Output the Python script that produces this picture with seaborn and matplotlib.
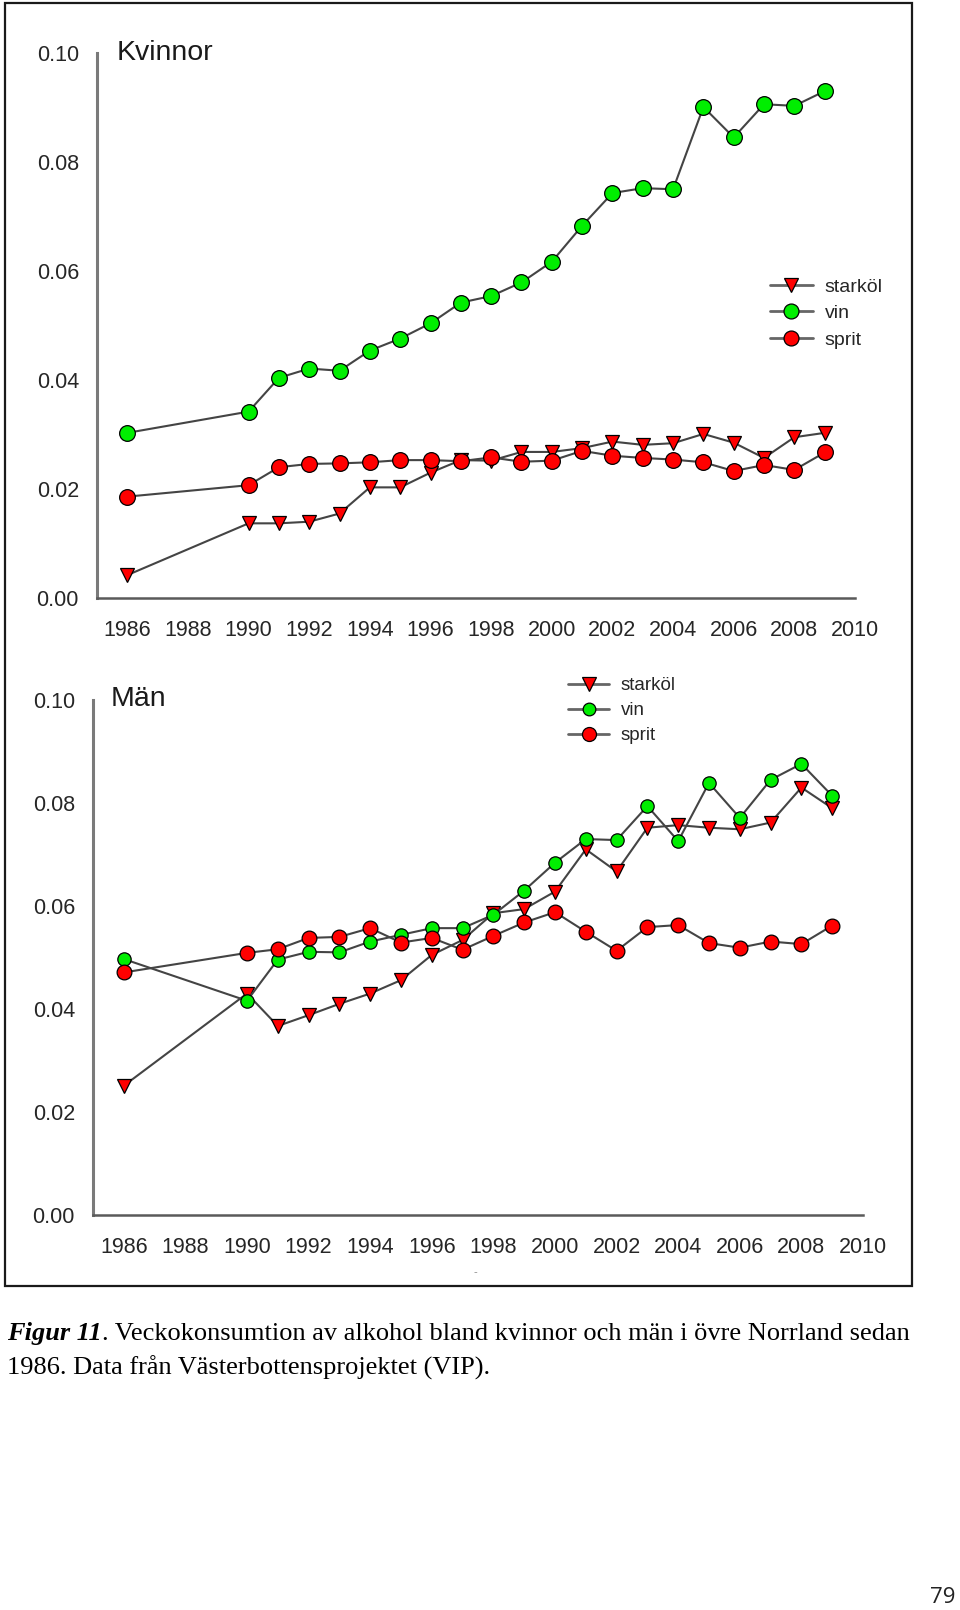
import numpy as np
import pandas as pd
import matplotlib
matplotlib.use("Agg")
import matplotlib.pyplot as plt
from matplotlib.patches import Rectangle
from matplotlib.ticker import FormatStrFormatter
import seaborn as sns

# ---------------- data ----------------
years = [1986, 1990, 1991, 1992, 1993, 1994, 1995, 1996, 1997, 1998, 1999,
         2000, 2001, 2002, 2003, 2004, 2005, 2006, 2007, 2008, 2009]

kv_starkol = [0.0042, 0.0137, 0.0137, 0.0140, 0.0155, 0.0203, 0.0203, 0.0230,
              0.0253, 0.0252, 0.0268, 0.0268, 0.0275, 0.0287, 0.0281, 0.0284,
              0.0301, 0.0285, 0.0257, 0.0295, 0.0303]
kv_vin = [0.0303, 0.0342, 0.0404, 0.0421, 0.0417, 0.0454, 0.0476, 0.0504,
          0.0542, 0.0554, 0.0579, 0.0617, 0.0683, 0.0743, 0.0752, 0.0750,
          0.0901, 0.0845, 0.0906, 0.0903, 0.0930]
kv_sprit = [0.0186, 0.0207, 0.0240, 0.0246, 0.0247, 0.0249, 0.0253, 0.0253,
            0.0251, 0.0258, 0.0250, 0.0252, 0.0270, 0.0261, 0.0257, 0.0254,
            0.0249, 0.0233, 0.0244, 0.0235, 0.0267]

man_starkol = [0.0251, 0.0430, 0.0367, 0.0388, 0.0410, 0.0430, 0.0456, 0.0505,
               0.0534, 0.0586, 0.0594, 0.0628, 0.0710, 0.0667, 0.0752, 0.0757,
               0.0752, 0.0749, 0.0762, 0.0830, 0.0790]
man_vin = [0.0497, 0.0416, 0.0496, 0.0511, 0.0510, 0.0531, 0.0544, 0.0557,
           0.0557, 0.0583, 0.0630, 0.0684, 0.0730, 0.0728, 0.0794, 0.0726,
           0.0839, 0.0771, 0.0845, 0.0876, 0.0814]
man_sprit = [0.0471, 0.0509, 0.0516, 0.0538, 0.0540, 0.0557, 0.0529, 0.0538,
             0.0515, 0.0542, 0.0568, 0.0588, 0.0550, 0.0513, 0.0559, 0.0563,
             0.0528, 0.0519, 0.0531, 0.0526, 0.0562]

series_names = ["starköl", "vin", "sprit"]
panel_titles = ["Kvinnor", "Män"]
x_ticks = list(range(1986, 2011, 2))
y_ticks = [0.00, 0.02, 0.04, 0.06, 0.08, 0.10]

caption_bold = "Figur 11"
caption_rest = ". Veckokonsumtion av alkohol bland kvinnor och män i övre Norrland sedan"
caption_line2 = "1986. Data från Västerbottensprojektet (VIP)."
page_number = "79"

# ---------------- style ----------------
sns.set_style("white")
plt.rcParams['font.family'] = ['Liberation Sans', 'DejaVu Sans']

LINE = "#444444"
RED = "#ff0000"
GREEN = "#00ee00"
AXC = "#5a5a5a"
TXT = "#262626"

fig = plt.figure(figsize=(9.6, 16.1), dpi=100)

W, H = 960.0, 1610.0
ax1 = fig.add_axes([97 / W, 1 - 598 / H, (855 - 97) / W, (598 - 53) / H])
ax2 = fig.add_axes([93 / W, 1 - 1215 / H, (863 - 93) / W, (1215 - 700) / H])

panels = [
    (ax1, [kv_starkol, kv_vin, kv_sprit], (11.3, 11.3), (770, 278), 14, 0.46),
    (ax2, [man_starkol, man_vin, man_sprit], (9.6, 10.6), (568, 677), 13.5, 0.42),
]

for ax, vals, (ms_vin, ms_sprit), (lx, ly), lfs, lsp in panels:
    styles = [("v", RED, 10.0), ("o", GREEN, ms_vin), ("o", RED, ms_sprit)]
    for name, v, (mk, fc, ms) in zip(series_names, vals, styles):
        sns.lineplot(x=years, y=v, ax=ax, marker=mk, color=LINE,
                     markerfacecolor=fc, markeredgecolor="black",
                     markeredgewidth=0.9, markersize=ms, linewidth=1.5,
                     label=name, legend=False, clip_on=False)
    ax.set_facecolor("none")
    ax.set_xlim(1985, 2010)
    ax.set_ylim(0, 0.10)
    ax.set_xticks(x_ticks)
    ax.set_yticks(y_ticks)
    ax.yaxis.set_major_formatter(FormatStrFormatter("%.2f"))
    ax.set_xlabel("")
    ax.set_ylabel("")
    for s in ["top", "right"]:
        ax.spines[s].set_visible(False)
    ax.spines["left"].set_color("#7a7a7a")
    ax.spines["left"].set_linewidth(2.2)
    ax.spines["bottom"].set_color(AXC)
    ax.spines["bottom"].set_linewidth(1.8)
    ax.tick_params(axis="y", direction="out", length=6, width=1.5,
                   color=AXC, labelsize=15.5, labelcolor=TXT, pad=7)
    ax.tick_params(axis="x", direction="out", length=5.5, width=1.5,
                   color=AXC, labelsize=15.5, labelcolor=TXT, pad=10)
    handles = ax.lines[:3]
    leg = ax.legend(handles, series_names, loc="upper left",
                    bbox_to_anchor=(lx / W, 1 - ly / H), bbox_transform=fig.transFigure,
                    frameon=False, borderpad=0, borderaxespad=0, handlelength=2.2,
                    handletextpad=0.6, labelspacing=lsp, fontsize=lfs,
                    markerscale=0.95, labelcolor=TXT)
    for hl in leg.get_lines():
        hl.set_color("#666666")
        hl.set_linewidth(2.0)

# ---------------- overlay (titles, frame, caption) ----------------
ov = fig.add_axes([0, 0, 1, 1])
ov.set_xlim(0, W)
ov.set_ylim(H, 0)
ov.axis("off")

ov.add_patch(Rectangle((5, 3), 907, 1283, fill=False, edgecolor="#1a1a1a",
                       linewidth=1.6))

ov.text(117, 53, panel_titles[0], fontsize=20.5, va="center", ha="left", color="#1a1a1a")
ov.text(111, 699, panel_titles[1], fontsize=20.5, va="center", ha="left", color="#1a1a1a")
ov.text(475, 1272, "-", fontsize=8, va="center", ha="center", color="#888888")

serif = ["Liberation Serif", "DejaVu Serif"]
t1 = ov.text(7, 1333, caption_bold, fontsize=19, family=serif, fontweight="bold",
             style="italic", va="center", ha="left", color="black")
ov.annotate(caption_rest, xy=(1, 0), xycoords=t1, va="bottom", ha="left",
            fontsize=19, family=serif, color="black")
ov.text(7, 1368, caption_line2, fontsize=19, family=serif, va="center",
        ha="left", color="black")

ov.text(943, 1597, page_number, fontsize=16, family=["Open Sans", "DejaVu Sans"],
        va="center", ha="center", color="#222222")

fig.savefig("out.png", dpi=100)
